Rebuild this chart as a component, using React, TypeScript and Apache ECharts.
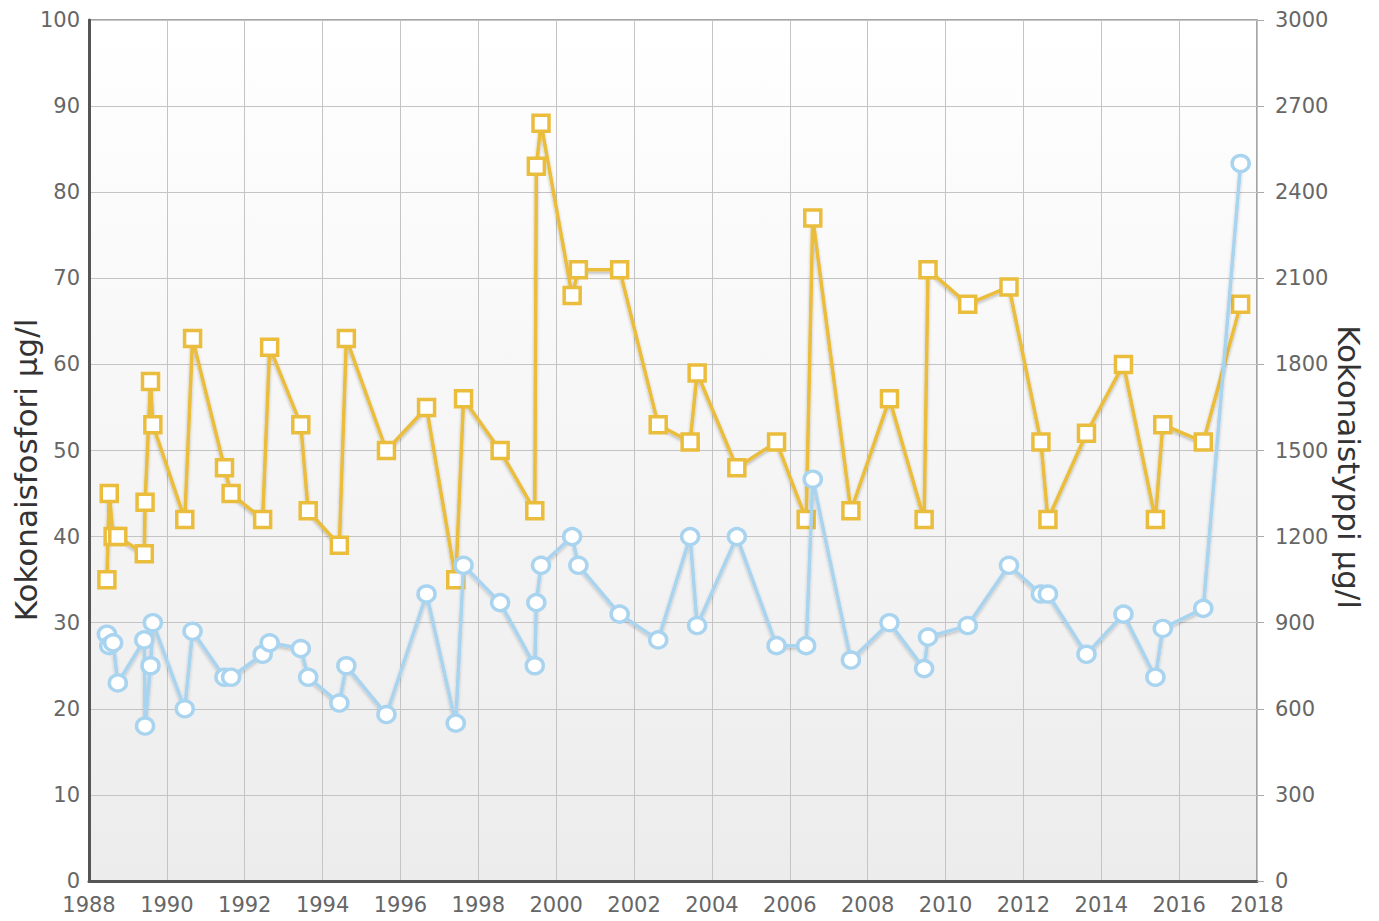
import React, { useEffect, useRef } from "react";
import * as echarts from "echarts";

const sampleDates = [
  1988.46, 1988.52, 1988.62, 1988.74, 1989.42, 1989.44, 1989.58, 1989.64, 1990.46, 1990.66,
  1991.48, 1991.65, 1992.46, 1992.64, 1993.44, 1993.63, 1994.43, 1994.61, 1995.64, 1996.67,
  1997.42, 1997.62, 1998.56, 1999.45, 1999.49, 1999.61, 2000.41, 2000.57, 2001.63, 2002.62,
  2003.44, 2003.62, 2004.64, 2005.66, 2006.42, 2006.59, 2007.57, 2008.56, 2009.45, 2009.55,
  2010.57, 2011.63, 2012.45, 2012.63, 2013.62, 2014.57, 2015.39, 2015.58, 2016.62, 2017.58,
];

const phosphorus = [
  35, 45, 40, 40, 38, 44, 58, 53, 42, 63,
  48, 45, 42, 62, 53, 43, 39, 63, 50, 55,
  35, 56, 50, 43, 83, 88, 68, 71, 71, 53,
  51, 59, 48, 51, 42, 77, 43, 56, 42, 71,
  67, 69, 51, 42, 52, 60, 42, 53, 51, 67,
];

const nitrogen = [
  860, 820, 830, 690, 840, 540, 750, 900, 600, 870,
  710, 710, 790, 830, 810, 710, 620, 750, 580, 1000,
  550, 1100, 970, 750, 970, 1100, 1200, 1100, 930, 840,
  1200, 890, 1200, 820, 820, 1400, 770, 900, 740, 850,
  890, 1100, 1000, 1000, 790, 930, 710, 880, 950, 2500,
];

const leftName = "Kokonaisfosfori µg/l";
const rightName = "Kokonaistyppi µg/l";

const FONT = "DejaVu Sans";
const YELLOW = "#EBBD3C";
const BLUE = "#A9D4F0";

export default function App() {
  const ref = useRef<HTMLDivElement>(null);

  useEffect(() => {
    if (!ref.current) return;
    const chart = echarts.init(ref.current, null, { renderer: "svg" });

    const pData = sampleDates.map((d, i) => [d, phosphorus[i]]);
    const nData = sampleDates.map((d, i) => [d, nitrogen[i]]);

    const labelStyle = { color: "#666", fontFamily: FONT, fontSize: 21 };
    const plain = (v: number) => String(v);

    chart.setOption({
      animation: false,
      backgroundColor: "#ffffff",
      grid: {
        left: 89,
        right: 122,
        top: 20,
        bottom: 40,
        show: true,
        borderColor: "#888",
        borderWidth: 1.5,
        backgroundColor: new echarts.graphic.LinearGradient(0, 0, 0, 1, [
          { offset: 0, color: "#ffffff" },
          { offset: 1, color: "#ececec" },
        ]),
      },
      xAxis: {
        type: "value",
        min: 1988,
        max: 2018,
        interval: 2,
        axisLine: { show: true, onZero: false, lineStyle: { color: "#555", width: 3 } },
        axisTick: { show: false },
        axisLabel: { ...labelStyle, margin: 13, formatter: plain },
        splitLine: { show: true, lineStyle: { color: "#c4c4c4", width: 1 } },
      },
      yAxis: [
        {
          type: "value",
          min: 0,
          max: 100,
          interval: 10,
          position: "left",
          axisLine: { show: true, lineStyle: { color: "#555", width: 3 } },
          axisTick: { show: false },
          axisLabel: { ...labelStyle, margin: 9, formatter: plain },
          splitLine: { show: true, lineStyle: { color: "#c4c4c4", width: 1 } },
        },
        {
          type: "value",
          min: 0,
          max: 3000,
          interval: 300,
          position: "right",
          axisLine: { show: false },
          axisTick: { show: true, length: 7, lineStyle: { color: "#aaa" } },
          axisLabel: { ...labelStyle, margin: 18, formatter: plain },
          splitLine: { show: false },
        },
      ],
      graphic: [
        {
          type: "text",
          x: 26,
          y: 470,
          rotation: Math.PI / 2,
          style: {
            text: leftName,
            fill: "#333",
            font: `31px '${FONT}'`,
            align: "center",
            verticalAlign: "middle",
          },
        },
        {
          type: "text",
          x: 1349,
          y: 467,
          rotation: -Math.PI / 2,
          style: {
            text: rightName,
            fill: "#333",
            font: `31px '${FONT}'`,
            align: "center",
            verticalAlign: "middle",
          },
        },
      ],
      series: [
        {
          name: leftName,
          type: "line",
          yAxisIndex: 0,
          data: pData,
          symbol: "rect",
          symbolSize: 16,
          lineStyle: {
            color: YELLOW,
            width: 3.5,
            shadowColor: "rgba(0,0,0,0.25)",
            shadowBlur: 3,
            shadowOffsetY: 2,
          },
          itemStyle: { color: "#ffffff", borderColor: YELLOW, borderWidth: 3.5 },
          z: 2,
        },
        {
          name: rightName,
          type: "line",
          yAxisIndex: 1,
          data: nData,
          symbol: "circle",
          symbolSize: [17, 16],
          lineStyle: {
            color: BLUE,
            width: 3.5,
            shadowColor: "rgba(0,0,0,0.2)",
            shadowBlur: 3,
            shadowOffsetY: 2,
          },
          itemStyle: { color: "#ffffff", borderColor: BLUE, borderWidth: 3.5 },
          z: 3,
        },
      ],
    });

    return () => chart.dispose();
  }, []);

  return (
    <div
      ref={ref}
      style={{ position: "fixed", left: 0, top: 0, width: 1379, height: 921 }}
    />
  );
}
